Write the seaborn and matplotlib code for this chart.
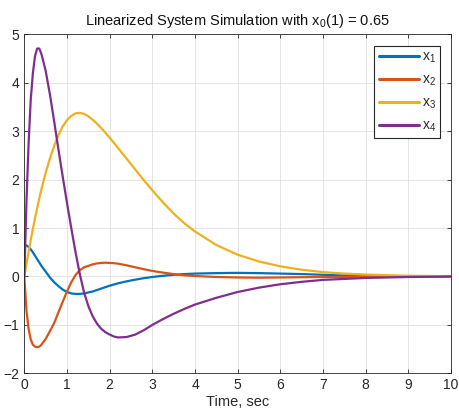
import numpy as np
import pandas as pd
import seaborn as sns
import matplotlib.pyplot as plt

# time samples (sec) and state values
t = [0, 0.05, 0.1, 0.15, 0.2, 0.25, 0.3, 0.35, 0.4, 0.5, 0.6, 0.7, 0.8, 0.9,
     1.0, 1.1, 1.2, 1.3, 1.4, 1.5, 1.6, 1.7, 1.8, 1.9, 2.0, 2.1, 2.2, 2.4, 2.6, 2.8,
     3.0, 3.25, 3.5, 3.75, 4.0, 4.5, 5.0, 5.5, 6.0, 6.5, 7.0, 7.5, 8.0, 9.0, 10.0]

x1 = [0.66, 0.64, 0.61, 0.56, 0.50, 0.43, 0.36, 0.29, 0.22, 0.10, -0.02, -0.12, -0.20, -0.27,
      -0.32, -0.35, -0.36, -0.36, -0.35, -0.33, -0.31, -0.28, -0.25, -0.22, -0.19, -0.165, -0.14,
      -0.10, -0.065, -0.035,
      -0.01, 0.015, 0.035, 0.05, 0.06, 0.07, 0.075, 0.07, 0.06, 0.05, 0.035, 0.02, 0.01, 0.0, 0.0]

x2 = [0, -0.70, -1.08, -1.30, -1.41, -1.45, -1.46, -1.45, -1.41, -1.29, -1.13, -0.96, -0.74, -0.52,
      -0.31, -0.12, 0.03, 0.13, 0.19, 0.22, 0.25, 0.27, 0.28, 0.285, 0.28, 0.275, 0.265,
      0.23, 0.19, 0.15,
      0.115, 0.08, 0.05, 0.025, 0.01, -0.01, -0.02, -0.025, -0.02, -0.015, -0.01, -0.01, 0.0, 0.0, 0.0]

x3 = [0, 0.26, 0.51, 0.75, 0.98, 1.20, 1.41, 1.61, 1.80, 2.14, 2.44, 2.70, 2.92, 3.10,
      3.23, 3.32, 3.37, 3.38, 3.36, 3.31, 3.24, 3.16, 3.07, 2.97, 2.87, 2.76, 2.65,
      2.43, 2.21, 1.99,
      1.78, 1.53, 1.30, 1.10, 0.93, 0.65, 0.45, 0.31, 0.21, 0.14, 0.09, 0.06, 0.04, 0.015, 0.005]

x4 = [0, 1.55, 2.75, 3.65, 4.20, 4.55, 4.71, 4.71, 4.60, 4.25, 3.76, 3.20, 2.62, 2.06,
      1.52, 1.00, 0.50, 0.05, -0.33, -0.61, -0.82, -0.97, -1.08, -1.15, -1.20, -1.24, -1.26,
      -1.25, -1.20, -1.11,
      -1.00, -0.88, -0.77, -0.67, -0.58, -0.44, -0.32, -0.23, -0.16, -0.11, -0.07, -0.05, -0.03, -0.01, 0.0]

labels = ['x$_1$', 'x$_2$', 'x$_3$', 'x$_4$']
colors = ['#0072BD', '#D95319', '#EDB120', '#7E2F8E']

df = pd.DataFrame({'Time': t * 4,
                   'Value': x1 + x2 + x3 + x4,
                   'State': [lab for lab in labels for _ in t]})

sns.set_style('white')
plt.rcParams['font.family'] = ['Liberation Sans', 'DejaVu Sans']
plt.rcParams['mathtext.default'] = 'regular'

fig = plt.figure(figsize=(4.59, 4.17), dpi=100)
ax = fig.add_axes([0.053, 0.1048, 0.9297, 0.8125])

sns.lineplot(data=df, x='Time', y='Value', hue='State', palette=colors,
             linewidth=1.6, ax=ax, sort=False, estimator=None)

ax.set_xlim(0, 10)
ax.set_ylim(-2, 5)
ax.set_xticks(range(0, 11))
ax.set_yticks(range(-2, 6))
ax.grid(True, color='#dfdfdf', linewidth=0.6)
ax.set_axisbelow(True)
for s in ax.spines.values():
    s.set_color('#262626')
    s.set_linewidth(0.6)
ax.tick_params(direction='in', length=3, width=0.6, colors='#262626',
               labelsize=10, top=True, right=True, bottom=True, left=True)
ax.set_xlabel('Time, sec', fontsize=10.5, color='#262626', labelpad=2)
ax.set_ylabel('')
ax.set_title('Linearized System Simulation with x$_0$(1) = 0.65',
             fontsize=10.5, color='#111111', pad=7)

leg = ax.legend(loc='upper right', fontsize=10, handlelength=2.9,
                labelspacing=0.55, borderaxespad=0.8, handletextpad=0.2,
                fancybox=False, framealpha=1, borderpad=0.3)
leg.get_frame().set_edgecolor('#262626')
leg.get_frame().set_linewidth(0.8)
for line in leg.get_lines():
    line.set_linewidth(2.2)

fig.savefig('out.png', dpi=100)
